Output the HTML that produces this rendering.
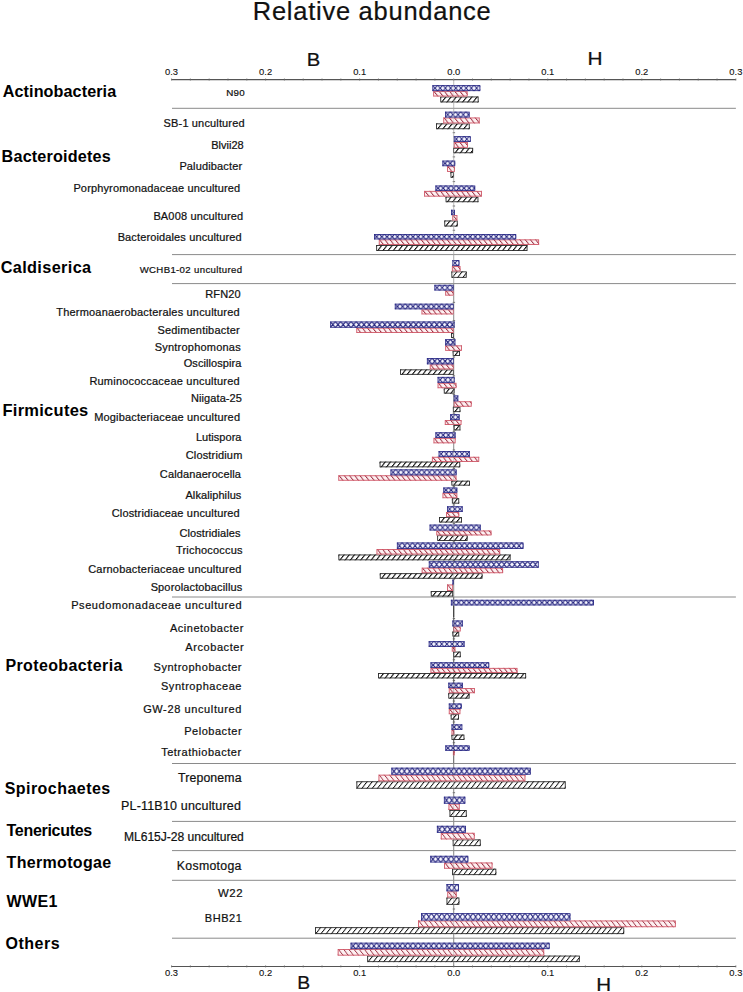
<!DOCTYPE html>
<html><head><meta charset="utf-8"><style>
html,body{margin:0;padding:0;background:#fff;}
svg{display:block;}
text{font-family:"Liberation Sans",sans-serif;}
</style></head><body>
<svg width="743" height="992" viewBox="0 0 743 992">
<defs>
<pattern id="k0" patternUnits="userSpaceOnUse" width="5.2" height="5.90" patternTransform="skewX(-38)"><rect width="5.2" height="5.90" fill="#fff"/><rect x="0" width="1.35" height="5.90" fill="#0a0a0a"/></pattern>
<pattern id="r1" patternUnits="userSpaceOnUse" width="5.2" height="5.40" patternTransform="skewX(38)"><rect width="5.2" height="5.40" fill="#fdf0f1"/><rect x="0" width="1.15" height="5.40" fill="#9c3044"/></pattern>
<pattern id="b2" patternUnits="userSpaceOnUse" width="5.2" height="5.90"><rect width="5.2" height="5.90" fill="#f6f6ff"/><path d="M0,0 L2.6,2.95 L0,5.90 M5.2,0 L2.6,2.95 L5.2,5.90 M-2.6,-2.95 L0,0 M7.800000000000001,-2.95 L5.2,0 M-2.6,8.85 L0,5.90 M7.800000000000001,8.85 L5.2,5.90" stroke="#25257e" stroke-width="1.05" fill="none"/></pattern>
<pattern id="k3" patternUnits="userSpaceOnUse" width="5.2" height="5.80" patternTransform="skewX(-38)"><rect width="5.2" height="5.80" fill="#fff"/><rect x="0" width="1.35" height="5.80" fill="#0a0a0a"/></pattern>
<pattern id="r4" patternUnits="userSpaceOnUse" width="5.2" height="5.90" patternTransform="skewX(38)"><rect width="5.2" height="5.90" fill="#fdf0f1"/><rect x="0" width="1.15" height="5.90" fill="#9c3044"/></pattern>
<pattern id="b5" patternUnits="userSpaceOnUse" width="5.2" height="5.80"><rect width="5.2" height="5.80" fill="#f6f6ff"/><path d="M0,0 L2.6,2.90 L0,5.80 M5.2,0 L2.6,2.90 L5.2,5.80 M-2.6,-2.90 L0,0 M7.800000000000001,-2.90 L5.2,0 M-2.6,8.70 L0,5.80 M7.800000000000001,8.70 L5.2,5.80" stroke="#25257e" stroke-width="1.05" fill="none"/></pattern>
<pattern id="k6" patternUnits="userSpaceOnUse" width="5.2" height="5.40" patternTransform="skewX(-38)"><rect width="5.2" height="5.40" fill="#fff"/><rect x="0" width="1.35" height="5.40" fill="#0a0a0a"/></pattern>
<pattern id="r7" patternUnits="userSpaceOnUse" width="5.2" height="5.80" patternTransform="skewX(38)"><rect width="5.2" height="5.80" fill="#fdf0f1"/><rect x="0" width="1.15" height="5.80" fill="#9c3044"/></pattern>
<pattern id="r8" patternUnits="userSpaceOnUse" width="5.2" height="5.70" patternTransform="skewX(38)"><rect width="5.2" height="5.70" fill="#fdf0f1"/><rect x="0" width="1.15" height="5.70" fill="#9c3044"/></pattern>
<pattern id="b9" patternUnits="userSpaceOnUse" width="5.2" height="5.60"><rect width="5.2" height="5.60" fill="#f6f6ff"/><path d="M0,0 L2.6,2.80 L0,5.60 M5.2,0 L2.6,2.80 L5.2,5.60 M-2.6,-2.80 L0,0 M7.800000000000001,-2.80 L5.2,0 M-2.6,8.40 L0,5.60 M7.800000000000001,8.40 L5.2,5.60" stroke="#25257e" stroke-width="1.05" fill="none"/></pattern>
<pattern id="k10" patternUnits="userSpaceOnUse" width="5.2" height="5.60" patternTransform="skewX(-38)"><rect width="5.2" height="5.60" fill="#fff"/><rect x="0" width="1.35" height="5.60" fill="#0a0a0a"/></pattern>
<pattern id="b11" patternUnits="userSpaceOnUse" width="5.2" height="5.40"><rect width="5.2" height="5.40" fill="#f6f6ff"/><path d="M0,0 L2.6,2.70 L0,5.40 M5.2,0 L2.6,2.70 L5.2,5.40 M-2.6,-2.70 L0,0 M7.800000000000001,-2.70 L5.2,0 M-2.6,8.10 L0,5.40 M7.800000000000001,8.10 L5.2,5.40" stroke="#25257e" stroke-width="1.05" fill="none"/></pattern>
<pattern id="k12" patternUnits="userSpaceOnUse" width="5.2" height="6.00" patternTransform="skewX(-38)"><rect width="5.2" height="6.00" fill="#fff"/><rect x="0" width="1.35" height="6.00" fill="#0a0a0a"/></pattern>
<pattern id="b13" patternUnits="userSpaceOnUse" width="5.2" height="5.30"><rect width="5.2" height="5.30" fill="#f6f6ff"/><path d="M0,0 L2.6,2.65 L0,5.30 M5.2,0 L2.6,2.65 L5.2,5.30 M-2.6,-2.65 L0,0 M7.800000000000001,-2.65 L5.2,0 M-2.6,7.95 L0,5.30 M7.800000000000001,7.95 L5.2,5.30" stroke="#25257e" stroke-width="1.05" fill="none"/></pattern>
<pattern id="r14" patternUnits="userSpaceOnUse" width="5.2" height="5.60" patternTransform="skewX(38)"><rect width="5.2" height="5.60" fill="#fdf0f1"/><rect x="0" width="1.15" height="5.60" fill="#9c3044"/></pattern>
<pattern id="k15" patternUnits="userSpaceOnUse" width="5.2" height="6.40" patternTransform="skewX(-38)"><rect width="5.2" height="6.40" fill="#fff"/><rect x="0" width="1.1" height="6.40" fill="#0a0a0a"/></pattern>
<pattern id="b16" patternUnits="userSpaceOnUse" width="5.2" height="6.00"><rect width="5.2" height="6.00" fill="#f6f6ff"/><path d="M0,0 L2.6,3.00 L0,6.00 M5.2,0 L2.6,3.00 L5.2,6.00 M-2.6,-3.00 L0,0 M7.800000000000001,-3.00 L5.2,0 M-2.6,9.00 L0,6.00 M7.800000000000001,9.00 L5.2,6.00" stroke="#25257e" stroke-width="1.05" fill="none"/></pattern>
<pattern id="r17" patternUnits="userSpaceOnUse" width="5.2" height="5.10" patternTransform="skewX(38)"><rect width="5.2" height="5.10" fill="#fdf0f1"/><rect x="0" width="1.15" height="5.10" fill="#9c3044"/></pattern>
<pattern id="b18" patternUnits="userSpaceOnUse" width="5.2" height="5.70"><rect width="5.2" height="5.70" fill="#f6f6ff"/><path d="M0,0 L2.6,2.85 L0,5.70 M5.2,0 L2.6,2.85 L5.2,5.70 M-2.6,-2.85 L0,0 M7.800000000000001,-2.85 L5.2,0 M-2.6,8.55 L0,5.70 M7.800000000000001,8.55 L5.2,5.70" stroke="#25257e" stroke-width="1.05" fill="none"/></pattern>
<pattern id="k19" patternUnits="userSpaceOnUse" width="5.2" height="4.90" patternTransform="skewX(-38)"><rect width="5.2" height="4.90" fill="#fff"/><rect x="0" width="1.35" height="4.90" fill="#0a0a0a"/></pattern>
<pattern id="r20" patternUnits="userSpaceOnUse" width="5.2" height="5.30" patternTransform="skewX(38)"><rect width="5.2" height="5.30" fill="#fdf0f1"/><rect x="0" width="1.15" height="5.30" fill="#9c3044"/></pattern>
<pattern id="b21" patternUnits="userSpaceOnUse" width="5.2" height="6.20"><rect width="5.2" height="6.20" fill="#f6f6ff"/><path d="M0,0 L2.6,3.10 L0,6.20 M5.2,0 L2.6,3.10 L5.2,6.20 M-2.6,-3.10 L0,0 M7.800000000000001,-3.10 L5.2,0 M-2.6,9.30 L0,6.20 M7.800000000000001,9.30 L5.2,6.20" stroke="#25257e" stroke-width="1.05" fill="none"/></pattern>
<pattern id="k22" patternUnits="userSpaceOnUse" width="5.2" height="5.10" patternTransform="skewX(-38)"><rect width="5.2" height="5.10" fill="#fff"/><rect x="0" width="1.35" height="5.10" fill="#0a0a0a"/></pattern>
<pattern id="r23" patternUnits="userSpaceOnUse" width="5.2" height="4.90" patternTransform="skewX(38)"><rect width="5.2" height="4.90" fill="#fdf0f1"/><rect x="0" width="1.15" height="4.90" fill="#9c3044"/></pattern>
<pattern id="k24" patternUnits="userSpaceOnUse" width="5.2" height="5.70" patternTransform="skewX(-38)"><rect width="5.2" height="5.70" fill="#fff"/><rect x="0" width="1.35" height="5.70" fill="#0a0a0a"/></pattern>
<pattern id="r25" patternUnits="userSpaceOnUse" width="5.2" height="5.50" patternTransform="skewX(38)"><rect width="5.2" height="5.50" fill="#fdf0f1"/><rect x="0" width="1.15" height="5.50" fill="#9c3044"/></pattern>
<pattern id="b26" patternUnits="userSpaceOnUse" width="5.2" height="6.50"><rect width="5.2" height="6.50" fill="#f6f6ff"/><path d="M0,0 L2.6,3.25 L0,6.50 M5.2,0 L2.6,3.25 L5.2,6.50 M-2.6,-3.25 L0,0 M7.800000000000001,-3.25 L5.2,0 M-2.6,9.75 L0,6.50 M7.800000000000001,9.75 L5.2,6.50" stroke="#25257e" stroke-width="1.05" fill="none"/></pattern>
<pattern id="k27" patternUnits="userSpaceOnUse" width="5.2" height="5.50" patternTransform="skewX(-38)"><rect width="5.2" height="5.50" fill="#fff"/><rect x="0" width="1.35" height="5.50" fill="#0a0a0a"/></pattern>
<pattern id="b28" patternUnits="userSpaceOnUse" width="5.2" height="6.40"><rect width="5.2" height="6.40" fill="#f6f6ff"/><path d="M0,0 L2.6,3.20 L0,6.40 M5.2,0 L2.6,3.20 L5.2,6.40 M-2.6,-3.20 L0,0 M7.800000000000001,-3.20 L5.2,0 M-2.6,9.60 L0,6.40 M7.800000000000001,9.60 L5.2,6.40" stroke="#25257e" stroke-width="1.05" fill="none"/></pattern>
<pattern id="r29" patternUnits="userSpaceOnUse" width="5.2" height="6.50" patternTransform="skewX(38)"><rect width="5.2" height="6.50" fill="#fdf0f1"/><rect x="0" width="1.0" height="6.50" fill="#9c3044"/></pattern>
<pattern id="b30" patternUnits="userSpaceOnUse" width="5.2" height="4.80"><rect width="5.2" height="4.80" fill="#f6f6ff"/><path d="M0,0 L2.6,2.40 L0,4.80 M5.2,0 L2.6,2.40 L5.2,4.80 M-2.6,-2.40 L0,0 M7.800000000000001,-2.40 L5.2,0 M-2.6,7.20 L0,4.80 M7.800000000000001,7.20 L5.2,4.80" stroke="#25257e" stroke-width="1.05" fill="none"/></pattern>
<pattern id="k31" patternUnits="userSpaceOnUse" width="5.2" height="5.00" patternTransform="skewX(-38)"><rect width="5.2" height="5.00" fill="#fff"/><rect x="0" width="1.35" height="5.00" fill="#0a0a0a"/></pattern>
<pattern id="r32" patternUnits="userSpaceOnUse" width="5.2" height="4.70" patternTransform="skewX(38)"><rect width="5.2" height="4.70" fill="#fdf0f1"/><rect x="0" width="1.15" height="4.70" fill="#9c3044"/></pattern>
<pattern id="r33" patternUnits="userSpaceOnUse" width="5.2" height="4.80" patternTransform="skewX(38)"><rect width="5.2" height="4.80" fill="#fdf0f1"/><rect x="0" width="1.15" height="4.80" fill="#9c3044"/></pattern>
<pattern id="r34" patternUnits="userSpaceOnUse" width="5.2" height="4.60" patternTransform="skewX(38)"><rect width="5.2" height="4.60" fill="#fdf0f1"/><rect x="0" width="1.15" height="4.60" fill="#9c3044"/></pattern>
<pattern id="k35" patternUnits="userSpaceOnUse" width="5.2" height="7.40" patternTransform="skewX(-38)"><rect width="5.2" height="7.40" fill="#fff"/><rect x="0" width="1.1" height="7.40" fill="#0a0a0a"/></pattern>
<pattern id="r36" patternUnits="userSpaceOnUse" width="5.2" height="6.60" patternTransform="skewX(38)"><rect width="5.2" height="6.60" fill="#fdf0f1"/><rect x="0" width="1.0" height="6.60" fill="#9c3044"/></pattern>
<pattern id="b37" patternUnits="userSpaceOnUse" width="5.2" height="7.00"><rect width="5.2" height="7.00" fill="#f6f6ff"/><path d="M0,0 L2.6,3.50 L0,7.00 M5.2,0 L2.6,3.50 L5.2,7.00 M-2.6,-3.50 L0,0 M7.800000000000001,-3.50 L5.2,0 M-2.6,10.50 L0,7.00 M7.800000000000001,10.50 L5.2,7.00" stroke="#25257e" stroke-width="1.05" fill="none"/></pattern>
<pattern id="k38" patternUnits="userSpaceOnUse" width="5.2" height="7.00" patternTransform="skewX(-38)"><rect width="5.2" height="7.00" fill="#fff"/><rect x="0" width="1.1" height="7.00" fill="#0a0a0a"/></pattern>
<pattern id="r39" patternUnits="userSpaceOnUse" width="5.2" height="6.30" patternTransform="skewX(38)"><rect width="5.2" height="6.30" fill="#fdf0f1"/><rect x="0" width="1.15" height="6.30" fill="#9c3044"/></pattern>
<pattern id="k40" patternUnits="userSpaceOnUse" width="5.2" height="6.70" patternTransform="skewX(-38)"><rect width="5.2" height="6.70" fill="#fff"/><rect x="0" width="1.1" height="6.70" fill="#0a0a0a"/></pattern>
<pattern id="r41" patternUnits="userSpaceOnUse" width="5.2" height="6.20" patternTransform="skewX(38)"><rect width="5.2" height="6.20" fill="#fdf0f1"/><rect x="0" width="1.15" height="6.20" fill="#9c3044"/></pattern>
<pattern id="b42" patternUnits="userSpaceOnUse" width="5.2" height="6.70"><rect width="5.2" height="6.70" fill="#f6f6ff"/><path d="M0,0 L2.6,3.35 L0,6.70 M5.2,0 L2.6,3.35 L5.2,6.70 M-2.6,-3.35 L0,0 M7.800000000000001,-3.35 L5.2,0 M-2.6,10.05 L0,6.70 M7.800000000000001,10.05 L5.2,6.70" stroke="#25257e" stroke-width="1.05" fill="none"/></pattern>
<pattern id="k43" patternUnits="userSpaceOnUse" width="5.2" height="7.30" patternTransform="skewX(-38)"><rect width="5.2" height="7.30" fill="#fff"/><rect x="0" width="1.1" height="7.30" fill="#0a0a0a"/></pattern>
<pattern id="b44" patternUnits="userSpaceOnUse" width="5.2" height="7.30"><rect width="5.2" height="7.30" fill="#f6f6ff"/><path d="M0,0 L2.6,3.65 L0,7.30 M5.2,0 L2.6,3.65 L5.2,7.30 M-2.6,-3.65 L0,0 M7.800000000000001,-3.65 L5.2,0 M-2.6,10.95 L0,7.30 M7.800000000000001,10.95 L5.2,7.30" stroke="#25257e" stroke-width="1.05" fill="none"/></pattern>
<pattern id="k45" patternUnits="userSpaceOnUse" width="5.2" height="6.90" patternTransform="skewX(-38)"><rect width="5.2" height="6.90" fill="#fff"/><rect x="0" width="1.1" height="6.90" fill="#0a0a0a"/></pattern>
<pattern id="r46" patternUnits="userSpaceOnUse" width="5.2" height="6.70" patternTransform="skewX(38)"><rect width="5.2" height="6.70" fill="#fdf0f1"/><rect x="0" width="1.0" height="6.70" fill="#9c3044"/></pattern>
<pattern id="k47" patternUnits="userSpaceOnUse" width="5.2" height="6.50" patternTransform="skewX(-38)"><rect width="5.2" height="6.50" fill="#fff"/><rect x="0" width="1.1" height="6.50" fill="#0a0a0a"/></pattern>
</defs>

<line x1="453.7" y1="79" x2="453.7" y2="254.6" stroke="#bdbdbd" stroke-width="0.9"/>
<line x1="453.7" y1="254.6" x2="453.7" y2="283.6" stroke="#b0b0b0" stroke-width="0.9"/>
<line x1="453.7" y1="283.6" x2="453.7" y2="597" stroke="#8c8c8c" stroke-width="0.9"/>
<line x1="453.7" y1="597" x2="453.7" y2="763.5" stroke="#5a5a5a" stroke-width="0.9"/>
<line x1="453.7" y1="763.5" x2="453.7" y2="966.5" stroke="#8a8a8a" stroke-width="0.9"/>
<line x1="452.70" y1="132.70" x2="455.10" y2="132.70" stroke="#666" stroke-width="0.9"/>
<line x1="452.70" y1="156.90" x2="455.10" y2="156.90" stroke="#666" stroke-width="0.9"/>
<line x1="452.70" y1="181.60" x2="455.10" y2="181.60" stroke="#666" stroke-width="0.9"/>
<line x1="452.70" y1="206.00" x2="455.10" y2="206.00" stroke="#666" stroke-width="0.9"/>
<line x1="452.70" y1="230.25" x2="455.10" y2="230.25" stroke="#666" stroke-width="0.9"/>
<line x1="452.70" y1="302.35" x2="455.10" y2="302.35" stroke="#666" stroke-width="0.9"/>
<line x1="452.70" y1="320.62" x2="455.10" y2="320.62" stroke="#666" stroke-width="0.9"/>
<line x1="452.70" y1="338.55" x2="455.10" y2="338.55" stroke="#666" stroke-width="0.9"/>
<line x1="452.70" y1="357.00" x2="455.10" y2="357.00" stroke="#666" stroke-width="0.9"/>
<line x1="452.70" y1="375.85" x2="455.10" y2="375.85" stroke="#666" stroke-width="0.9"/>
<line x1="452.70" y1="394.50" x2="455.10" y2="394.50" stroke="#666" stroke-width="0.9"/>
<line x1="452.70" y1="413.15" x2="455.10" y2="413.15" stroke="#666" stroke-width="0.9"/>
<line x1="452.70" y1="431.35" x2="455.10" y2="431.35" stroke="#666" stroke-width="0.9"/>
<line x1="452.70" y1="449.95" x2="455.10" y2="449.95" stroke="#666" stroke-width="0.9"/>
<line x1="452.70" y1="468.50" x2="455.10" y2="468.50" stroke="#666" stroke-width="0.9"/>
<line x1="452.70" y1="486.55" x2="455.10" y2="486.55" stroke="#666" stroke-width="0.9"/>
<line x1="452.70" y1="504.95" x2="455.10" y2="504.95" stroke="#666" stroke-width="0.9"/>
<line x1="452.70" y1="523.55" x2="455.10" y2="523.55" stroke="#666" stroke-width="0.9"/>
<line x1="452.70" y1="541.80" x2="455.10" y2="541.80" stroke="#666" stroke-width="0.9"/>
<line x1="452.70" y1="560.80" x2="455.10" y2="560.80" stroke="#666" stroke-width="0.9"/>
<line x1="452.70" y1="579.20" x2="455.10" y2="579.20" stroke="#666" stroke-width="0.9"/>
<line x1="452.70" y1="618.55" x2="455.10" y2="618.55" stroke="#666" stroke-width="0.9"/>
<line x1="452.70" y1="638.85" x2="455.10" y2="638.85" stroke="#666" stroke-width="0.9"/>
<line x1="452.70" y1="659.75" x2="455.10" y2="659.75" stroke="#666" stroke-width="0.9"/>
<line x1="452.70" y1="680.55" x2="455.10" y2="680.55" stroke="#666" stroke-width="0.9"/>
<line x1="452.70" y1="701.05" x2="455.10" y2="701.05" stroke="#666" stroke-width="0.9"/>
<line x1="452.70" y1="722.00" x2="455.10" y2="722.00" stroke="#666" stroke-width="0.9"/>
<line x1="452.70" y1="742.70" x2="455.10" y2="742.70" stroke="#666" stroke-width="0.9"/>
<line x1="452.70" y1="792.70" x2="455.10" y2="792.70" stroke="#666" stroke-width="0.9"/>
<line x1="452.70" y1="909.00" x2="455.10" y2="909.00" stroke="#666" stroke-width="0.9"/>
<line x1="453.7" y1="605.4" x2="453.7" y2="617" stroke="#333" stroke-width="1"/>
<line x1="172.0" y1="108.3" x2="735.9" y2="108.3" stroke="#8a8a8a" stroke-width="1.0"/>
<line x1="172.0" y1="254.6" x2="735.9" y2="254.6" stroke="#8a8a8a" stroke-width="1.0"/>
<line x1="172.0" y1="283.6" x2="735.9" y2="283.6" stroke="#8a8a8a" stroke-width="1.0"/>
<line x1="172.0" y1="597.0" x2="735.9" y2="597.0" stroke="#8a8a8a" stroke-width="1.0"/>
<line x1="172.0" y1="763.5" x2="735.9" y2="763.5" stroke="#8a8a8a" stroke-width="1.0"/>
<line x1="172.0" y1="821.4" x2="735.9" y2="821.4" stroke="#8a8a8a" stroke-width="1.0"/>
<line x1="172.0" y1="850.6" x2="735.9" y2="850.6" stroke="#8a8a8a" stroke-width="1.0"/>
<line x1="172.0" y1="880.3" x2="735.9" y2="880.3" stroke="#8a8a8a" stroke-width="1.0"/>
<line x1="172.0" y1="938.2" x2="735.9" y2="938.2" stroke="#8a8a8a" stroke-width="1.0"/>
<line x1="171.5" y1="79.6" x2="735.9" y2="79.6" stroke="#555" stroke-width="1.1"/>
<line x1="171.55" y1="78.5" x2="171.55" y2="80.5" stroke="#666" stroke-width="0.8"/>
<line x1="190.36" y1="78.5" x2="190.36" y2="80.5" stroke="#666" stroke-width="0.8"/>
<line x1="209.17" y1="78.5" x2="209.17" y2="80.5" stroke="#666" stroke-width="0.8"/>
<line x1="227.98" y1="78.5" x2="227.98" y2="80.5" stroke="#666" stroke-width="0.8"/>
<line x1="246.79" y1="78.5" x2="246.79" y2="80.5" stroke="#666" stroke-width="0.8"/>
<line x1="265.60" y1="78.5" x2="265.60" y2="80.5" stroke="#666" stroke-width="0.8"/>
<line x1="284.41" y1="78.5" x2="284.41" y2="80.5" stroke="#666" stroke-width="0.8"/>
<line x1="303.22" y1="78.5" x2="303.22" y2="80.5" stroke="#666" stroke-width="0.8"/>
<line x1="322.03" y1="78.5" x2="322.03" y2="80.5" stroke="#666" stroke-width="0.8"/>
<line x1="340.84" y1="78.5" x2="340.84" y2="80.5" stroke="#666" stroke-width="0.8"/>
<line x1="359.65" y1="78.5" x2="359.65" y2="80.5" stroke="#666" stroke-width="0.8"/>
<line x1="378.46" y1="78.5" x2="378.46" y2="80.5" stroke="#666" stroke-width="0.8"/>
<line x1="397.27" y1="78.5" x2="397.27" y2="80.5" stroke="#666" stroke-width="0.8"/>
<line x1="416.08" y1="78.5" x2="416.08" y2="80.5" stroke="#666" stroke-width="0.8"/>
<line x1="434.89" y1="78.5" x2="434.89" y2="80.5" stroke="#666" stroke-width="0.8"/>
<line x1="453.70" y1="78.5" x2="453.70" y2="80.5" stroke="#666" stroke-width="0.8"/>
<line x1="472.51" y1="78.5" x2="472.51" y2="80.5" stroke="#666" stroke-width="0.8"/>
<line x1="491.32" y1="78.5" x2="491.32" y2="80.5" stroke="#666" stroke-width="0.8"/>
<line x1="510.13" y1="78.5" x2="510.13" y2="80.5" stroke="#666" stroke-width="0.8"/>
<line x1="528.94" y1="78.5" x2="528.94" y2="80.5" stroke="#666" stroke-width="0.8"/>
<line x1="547.75" y1="78.5" x2="547.75" y2="80.5" stroke="#666" stroke-width="0.8"/>
<line x1="566.56" y1="78.5" x2="566.56" y2="80.5" stroke="#666" stroke-width="0.8"/>
<line x1="585.37" y1="78.5" x2="585.37" y2="80.5" stroke="#666" stroke-width="0.8"/>
<line x1="604.18" y1="78.5" x2="604.18" y2="80.5" stroke="#666" stroke-width="0.8"/>
<line x1="622.99" y1="78.5" x2="622.99" y2="80.5" stroke="#666" stroke-width="0.8"/>
<line x1="641.80" y1="78.5" x2="641.80" y2="80.5" stroke="#666" stroke-width="0.8"/>
<line x1="660.61" y1="78.5" x2="660.61" y2="80.5" stroke="#666" stroke-width="0.8"/>
<line x1="679.42" y1="78.5" x2="679.42" y2="80.5" stroke="#666" stroke-width="0.8"/>
<line x1="698.23" y1="78.5" x2="698.23" y2="80.5" stroke="#666" stroke-width="0.8"/>
<line x1="717.04" y1="78.5" x2="717.04" y2="80.5" stroke="#666" stroke-width="0.8"/>
<line x1="735.85" y1="78.5" x2="735.85" y2="80.5" stroke="#666" stroke-width="0.8"/>
<text x="171.55" y="75.0" font-size="9.4" fill="#111" stroke="#111" stroke-width="0.12" text-anchor="middle">0.3</text>
<text x="265.60" y="75.0" font-size="9.4" fill="#111" stroke="#111" stroke-width="0.12" text-anchor="middle">0.2</text>
<text x="359.65" y="75.0" font-size="9.4" fill="#111" stroke="#111" stroke-width="0.12" text-anchor="middle">0.1</text>
<text x="453.70" y="75.0" font-size="9.4" fill="#111" stroke="#111" stroke-width="0.12" text-anchor="middle">0.0</text>
<text x="547.75" y="75.0" font-size="9.4" fill="#111" stroke="#111" stroke-width="0.12" text-anchor="middle">0.1</text>
<text x="641.80" y="75.0" font-size="9.4" fill="#111" stroke="#111" stroke-width="0.12" text-anchor="middle">0.2</text>
<text x="735.85" y="75.0" font-size="9.4" fill="#111" stroke="#111" stroke-width="0.12" text-anchor="middle">0.3</text>
<line x1="171.5" y1="966.5" x2="735.9" y2="966.5" stroke="#555" stroke-width="1.1"/>
<line x1="171.55" y1="965.4" x2="171.55" y2="967.4" stroke="#666" stroke-width="0.8"/>
<line x1="190.36" y1="965.4" x2="190.36" y2="967.4" stroke="#666" stroke-width="0.8"/>
<line x1="209.17" y1="965.4" x2="209.17" y2="967.4" stroke="#666" stroke-width="0.8"/>
<line x1="227.98" y1="965.4" x2="227.98" y2="967.4" stroke="#666" stroke-width="0.8"/>
<line x1="246.79" y1="965.4" x2="246.79" y2="967.4" stroke="#666" stroke-width="0.8"/>
<line x1="265.60" y1="965.4" x2="265.60" y2="967.4" stroke="#666" stroke-width="0.8"/>
<line x1="284.41" y1="965.4" x2="284.41" y2="967.4" stroke="#666" stroke-width="0.8"/>
<line x1="303.22" y1="965.4" x2="303.22" y2="967.4" stroke="#666" stroke-width="0.8"/>
<line x1="322.03" y1="965.4" x2="322.03" y2="967.4" stroke="#666" stroke-width="0.8"/>
<line x1="340.84" y1="965.4" x2="340.84" y2="967.4" stroke="#666" stroke-width="0.8"/>
<line x1="359.65" y1="965.4" x2="359.65" y2="967.4" stroke="#666" stroke-width="0.8"/>
<line x1="378.46" y1="965.4" x2="378.46" y2="967.4" stroke="#666" stroke-width="0.8"/>
<line x1="397.27" y1="965.4" x2="397.27" y2="967.4" stroke="#666" stroke-width="0.8"/>
<line x1="416.08" y1="965.4" x2="416.08" y2="967.4" stroke="#666" stroke-width="0.8"/>
<line x1="434.89" y1="965.4" x2="434.89" y2="967.4" stroke="#666" stroke-width="0.8"/>
<line x1="453.70" y1="965.4" x2="453.70" y2="967.4" stroke="#666" stroke-width="0.8"/>
<line x1="472.51" y1="965.4" x2="472.51" y2="967.4" stroke="#666" stroke-width="0.8"/>
<line x1="491.32" y1="965.4" x2="491.32" y2="967.4" stroke="#666" stroke-width="0.8"/>
<line x1="510.13" y1="965.4" x2="510.13" y2="967.4" stroke="#666" stroke-width="0.8"/>
<line x1="528.94" y1="965.4" x2="528.94" y2="967.4" stroke="#666" stroke-width="0.8"/>
<line x1="547.75" y1="965.4" x2="547.75" y2="967.4" stroke="#666" stroke-width="0.8"/>
<line x1="566.56" y1="965.4" x2="566.56" y2="967.4" stroke="#666" stroke-width="0.8"/>
<line x1="585.37" y1="965.4" x2="585.37" y2="967.4" stroke="#666" stroke-width="0.8"/>
<line x1="604.18" y1="965.4" x2="604.18" y2="967.4" stroke="#666" stroke-width="0.8"/>
<line x1="622.99" y1="965.4" x2="622.99" y2="967.4" stroke="#666" stroke-width="0.8"/>
<line x1="641.80" y1="965.4" x2="641.80" y2="967.4" stroke="#666" stroke-width="0.8"/>
<line x1="660.61" y1="965.4" x2="660.61" y2="967.4" stroke="#666" stroke-width="0.8"/>
<line x1="679.42" y1="965.4" x2="679.42" y2="967.4" stroke="#666" stroke-width="0.8"/>
<line x1="698.23" y1="965.4" x2="698.23" y2="967.4" stroke="#666" stroke-width="0.8"/>
<line x1="717.04" y1="965.4" x2="717.04" y2="967.4" stroke="#666" stroke-width="0.8"/>
<line x1="735.85" y1="965.4" x2="735.85" y2="967.4" stroke="#666" stroke-width="0.8"/>
<text x="171.55" y="976.3" font-size="9.4" fill="#111" stroke="#111" stroke-width="0.12" text-anchor="middle">0.3</text>
<text x="265.60" y="976.3" font-size="9.4" fill="#111" stroke="#111" stroke-width="0.12" text-anchor="middle">0.2</text>
<text x="359.65" y="976.3" font-size="9.4" fill="#111" stroke="#111" stroke-width="0.12" text-anchor="middle">0.1</text>
<text x="453.70" y="976.3" font-size="9.4" fill="#111" stroke="#111" stroke-width="0.12" text-anchor="middle">0.0</text>
<text x="547.75" y="976.3" font-size="9.4" fill="#111" stroke="#111" stroke-width="0.12" text-anchor="middle">0.1</text>
<text x="641.80" y="976.3" font-size="9.4" fill="#111" stroke="#111" stroke-width="0.12" text-anchor="middle">0.2</text>
<text x="735.85" y="976.3" font-size="9.4" fill="#111" stroke="#111" stroke-width="0.12" text-anchor="middle">0.3</text>
<g transform="translate(440.30,96.50)"><rect width="38.30" height="5.90" fill="url(#k0)"/><rect x="0.45" y="0.45" width="37.40" height="5.00" fill="none" stroke="#2a2a2a" stroke-width="0.9"/></g>
<g transform="translate(433.20,91.10)"><rect width="34.40" height="5.40" fill="url(#r1)"/><rect x="0.45" y="0.45" width="33.50" height="4.50" fill="none" stroke="#d05868" stroke-width="0.9"/></g>
<g transform="translate(432.40,85.20)"><rect width="47.90" height="5.90" fill="url(#b2)"/><rect x="0.425" y="0.425" width="47.05" height="5.05" fill="none" stroke="#2a2a86" stroke-width="0.85"/></g>
<g transform="translate(436.10,123.40)"><rect width="33.60" height="5.80" fill="url(#k3)"/><rect x="0.45" y="0.45" width="32.70" height="4.90" fill="none" stroke="#2a2a2a" stroke-width="0.9"/></g>
<g transform="translate(443.30,117.50)"><rect width="36.40" height="5.90" fill="url(#r4)"/><rect x="0.45" y="0.45" width="35.50" height="5.00" fill="none" stroke="#d05868" stroke-width="0.9"/></g>
<g transform="translate(445.10,111.70)"><rect width="24.50" height="5.80" fill="url(#b5)"/><rect x="0.425" y="0.425" width="23.65" height="4.95" fill="none" stroke="#2a2a86" stroke-width="0.85"/></g>
<g transform="translate(453.20,147.80)"><rect width="19.90" height="5.40" fill="url(#k6)"/><rect x="0.45" y="0.45" width="19.00" height="4.50" fill="none" stroke="#2a2a2a" stroke-width="0.9"/></g>
<g transform="translate(453.80,142.00)"><rect width="14.20" height="5.80" fill="url(#r7)"/><rect x="0.45" y="0.45" width="13.30" height="4.90" fill="none" stroke="#d05868" stroke-width="0.9"/></g>
<g transform="translate(453.80,136.20)"><rect width="16.90" height="5.80" fill="url(#b5)"/><rect x="0.425" y="0.425" width="16.05" height="4.95" fill="none" stroke="#2a2a86" stroke-width="0.85"/></g>
<g transform="translate(450.50,171.90)"><rect width="3.30" height="5.80" fill="url(#k3)"/><rect x="0.45" y="0.45" width="2.40" height="4.90" fill="none" stroke="#2a2a2a" stroke-width="0.9"/></g>
<g transform="translate(447.10,166.20)"><rect width="7.80" height="5.70" fill="url(#r8)"/><rect x="0.45" y="0.45" width="6.90" height="4.80" fill="none" stroke="#d05868" stroke-width="0.9"/></g>
<g transform="translate(442.40,160.60)"><rect width="12.80" height="5.60" fill="url(#b9)"/><rect x="0.425" y="0.425" width="11.95" height="4.75" fill="none" stroke="#2a2a86" stroke-width="0.85"/></g>
<g transform="translate(445.60,196.60)"><rect width="32.80" height="5.60" fill="url(#k10)"/><rect x="0.45" y="0.45" width="31.90" height="4.70" fill="none" stroke="#2a2a2a" stroke-width="0.9"/></g>
<g transform="translate(424.10,190.90)"><rect width="57.80" height="5.70" fill="url(#r8)"/><rect x="0.45" y="0.45" width="56.90" height="4.80" fill="none" stroke="#d05868" stroke-width="0.9"/></g>
<g transform="translate(435.40,185.50)"><rect width="39.80" height="5.40" fill="url(#b11)"/><rect x="0.425" y="0.425" width="38.95" height="4.55" fill="none" stroke="#2a2a86" stroke-width="0.85"/></g>
<g transform="translate(444.30,220.50)"><rect width="13.40" height="6.00" fill="url(#k12)"/><rect x="0.45" y="0.45" width="12.50" height="5.10" fill="none" stroke="#2a2a2a" stroke-width="0.9"/></g>
<g transform="translate(452.30,215.10)"><rect width="5.10" height="5.40" fill="url(#r1)"/><rect x="0.45" y="0.45" width="4.20" height="4.50" fill="none" stroke="#d05868" stroke-width="0.9"/></g>
<g transform="translate(451.00,209.80)"><rect width="4.00" height="5.30" fill="url(#b13)"/><rect x="0.425" y="0.425" width="3.15" height="4.45" fill="none" stroke="#2a2a86" stroke-width="0.85"/></g>
<g transform="translate(376.20,245.00)"><rect width="151.30" height="6.00" fill="url(#k12)"/><rect x="0.45" y="0.45" width="150.40" height="5.10" fill="none" stroke="#2a2a2a" stroke-width="0.9"/></g>
<g transform="translate(378.80,239.40)"><rect width="160.30" height="5.60" fill="url(#r14)"/><rect x="0.45" y="0.45" width="159.40" height="4.70" fill="none" stroke="#d05868" stroke-width="0.9"/></g>
<g transform="translate(374.00,234.00)"><rect width="142.20" height="5.40" fill="url(#b11)"/><rect x="0.425" y="0.425" width="141.35" height="4.55" fill="none" stroke="#2a2a86" stroke-width="0.85"/></g>
<g transform="translate(451.40,271.40)"><rect width="15.30" height="6.40" fill="url(#k15)"/><rect x="0.45" y="0.45" width="14.40" height="5.50" fill="none" stroke="#2a2a2a" stroke-width="0.9"/></g>
<g transform="translate(451.90,266.00)"><rect width="8.60" height="5.40" fill="url(#r1)"/><rect x="0.45" y="0.45" width="7.70" height="4.50" fill="none" stroke="#d05868" stroke-width="0.9"/></g>
<g transform="translate(452.40,260.00)"><rect width="7.00" height="6.00" fill="url(#b16)"/><rect x="0.425" y="0.425" width="6.15" height="5.15" fill="none" stroke="#2a2a86" stroke-width="0.85"/></g>
<g transform="translate(445.20,290.50)"><rect width="8.60" height="5.10" fill="url(#r17)"/><rect x="0.45" y="0.45" width="7.70" height="4.20" fill="none" stroke="#d05868" stroke-width="0.9"/></g>
<g transform="translate(434.40,284.80)"><rect width="19.40" height="5.70" fill="url(#b18)"/><rect x="0.425" y="0.425" width="18.55" height="4.85" fill="none" stroke="#2a2a86" stroke-width="0.85"/></g>
<g transform="translate(421.50,309.30)"><rect width="32.30" height="5.10" fill="url(#r17)"/><rect x="0.45" y="0.45" width="31.40" height="4.20" fill="none" stroke="#d05868" stroke-width="0.9"/></g>
<g transform="translate(394.80,303.70)"><rect width="59.00" height="5.60" fill="url(#b9)"/><rect x="0.425" y="0.425" width="58.15" height="4.75" fill="none" stroke="#2a2a86" stroke-width="0.85"/></g>
<g transform="translate(451.00,333.00)"><rect width="2.80" height="4.90" fill="url(#k19)"/><rect x="0.45" y="0.45" width="1.90" height="4.00" fill="none" stroke="#2a2a2a" stroke-width="0.9"/></g>
<g transform="translate(356.30,327.70)"><rect width="97.50" height="5.30" fill="url(#r20)"/><rect x="0.45" y="0.45" width="96.60" height="4.40" fill="none" stroke="#d05868" stroke-width="0.9"/></g>
<g transform="translate(330.20,321.50)"><rect width="124.40" height="6.20" fill="url(#b21)"/><rect x="0.425" y="0.425" width="123.55" height="5.35" fill="none" stroke="#2a2a86" stroke-width="0.85"/></g>
<g transform="translate(452.70,350.80)"><rect width="7.30" height="5.10" fill="url(#k22)"/><rect x="0.45" y="0.45" width="6.40" height="4.20" fill="none" stroke="#2a2a2a" stroke-width="0.9"/></g>
<g transform="translate(445.20,345.40)"><rect width="16.70" height="5.40" fill="url(#r1)"/><rect x="0.45" y="0.45" width="15.80" height="4.50" fill="none" stroke="#d05868" stroke-width="0.9"/></g>
<g transform="translate(445.20,339.20)"><rect width="10.20" height="6.20" fill="url(#b21)"/><rect x="0.425" y="0.425" width="9.35" height="5.35" fill="none" stroke="#2a2a86" stroke-width="0.85"/></g>
<g transform="translate(400.00,369.40)"><rect width="53.80" height="5.40" fill="url(#k6)"/><rect x="0.45" y="0.45" width="52.90" height="4.50" fill="none" stroke="#2a2a2a" stroke-width="0.9"/></g>
<g transform="translate(429.80,364.30)"><rect width="24.00" height="5.10" fill="url(#r17)"/><rect x="0.45" y="0.45" width="23.10" height="4.20" fill="none" stroke="#d05868" stroke-width="0.9"/></g>
<g transform="translate(426.90,358.10)"><rect width="26.90" height="6.20" fill="url(#b21)"/><rect x="0.425" y="0.425" width="26.05" height="5.35" fill="none" stroke="#2a2a86" stroke-width="0.85"/></g>
<g transform="translate(443.80,388.20)"><rect width="10.80" height="5.40" fill="url(#k6)"/><rect x="0.45" y="0.45" width="9.90" height="4.50" fill="none" stroke="#2a2a2a" stroke-width="0.9"/></g>
<g transform="translate(437.60,382.80)"><rect width="18.90" height="5.40" fill="url(#r1)"/><rect x="0.45" y="0.45" width="18.00" height="4.50" fill="none" stroke="#d05868" stroke-width="0.9"/></g>
<g transform="translate(437.60,376.90)"><rect width="17.00" height="5.90" fill="url(#b2)"/><rect x="0.425" y="0.425" width="16.15" height="5.05" fill="none" stroke="#2a2a86" stroke-width="0.85"/></g>
<g transform="translate(452.90,406.70)"><rect width="7.50" height="5.40" fill="url(#k6)"/><rect x="0.45" y="0.45" width="6.60" height="4.50" fill="none" stroke="#2a2a2a" stroke-width="0.9"/></g>
<g transform="translate(453.70,401.30)"><rect width="18.00" height="5.40" fill="url(#r1)"/><rect x="0.45" y="0.45" width="17.10" height="4.50" fill="none" stroke="#d05868" stroke-width="0.9"/></g>
<g transform="translate(453.70,395.40)"><rect width="4.60" height="5.90" fill="url(#b2)"/><rect x="0.425" y="0.425" width="3.75" height="5.05" fill="none" stroke="#2a2a86" stroke-width="0.85"/></g>
<g transform="translate(453.70,425.00)"><rect width="6.70" height="5.40" fill="url(#k6)"/><rect x="0.45" y="0.45" width="5.80" height="4.50" fill="none" stroke="#2a2a2a" stroke-width="0.9"/></g>
<g transform="translate(444.80,420.10)"><rect width="16.70" height="4.90" fill="url(#r23)"/><rect x="0.45" y="0.45" width="15.80" height="4.00" fill="none" stroke="#d05868" stroke-width="0.9"/></g>
<g transform="translate(450.20,414.20)"><rect width="9.40" height="5.90" fill="url(#b2)"/><rect x="0.425" y="0.425" width="8.55" height="5.05" fill="none" stroke="#2a2a86" stroke-width="0.85"/></g>
<g transform="translate(433.50,437.90)"><rect width="22.10" height="5.40" fill="url(#r1)"/><rect x="0.45" y="0.45" width="21.20" height="4.50" fill="none" stroke="#d05868" stroke-width="0.9"/></g>
<g transform="translate(435.40,432.30)"><rect width="20.20" height="5.60" fill="url(#b9)"/><rect x="0.425" y="0.425" width="19.35" height="4.75" fill="none" stroke="#2a2a86" stroke-width="0.85"/></g>
<g transform="translate(379.60,461.60)"><rect width="80.60" height="5.70" fill="url(#k24)"/><rect x="0.45" y="0.45" width="79.70" height="4.80" fill="none" stroke="#2a2a2a" stroke-width="0.9"/></g>
<g transform="translate(431.90,456.80)"><rect width="47.30" height="5.10" fill="url(#r17)"/><rect x="0.45" y="0.45" width="46.40" height="4.20" fill="none" stroke="#d05868" stroke-width="0.9"/></g>
<g transform="translate(438.60,451.10)"><rect width="31.20" height="5.70" fill="url(#b18)"/><rect x="0.425" y="0.425" width="30.35" height="4.85" fill="none" stroke="#2a2a86" stroke-width="0.85"/></g>
<g transform="translate(451.40,480.70)"><rect width="18.50" height="4.90" fill="url(#k19)"/><rect x="0.45" y="0.45" width="17.60" height="4.00" fill="none" stroke="#2a2a2a" stroke-width="0.9"/></g>
<g transform="translate(338.30,475.30)"><rect width="118.20" height="5.40" fill="url(#r1)"/><rect x="0.45" y="0.45" width="117.30" height="4.50" fill="none" stroke="#d05868" stroke-width="0.9"/></g>
<g transform="translate(390.50,469.40)"><rect width="66.10" height="5.90" fill="url(#b2)"/><rect x="0.425" y="0.425" width="65.25" height="5.05" fill="none" stroke="#2a2a86" stroke-width="0.85"/></g>
<g transform="translate(451.90,498.20)"><rect width="7.30" height="5.40" fill="url(#k6)"/><rect x="0.45" y="0.45" width="6.40" height="4.50" fill="none" stroke="#2a2a2a" stroke-width="0.9"/></g>
<g transform="translate(442.50,492.80)"><rect width="14.80" height="5.40" fill="url(#r1)"/><rect x="0.45" y="0.45" width="13.90" height="4.50" fill="none" stroke="#d05868" stroke-width="0.9"/></g>
<g transform="translate(443.30,487.50)"><rect width="14.00" height="5.30" fill="url(#b13)"/><rect x="0.425" y="0.425" width="13.15" height="4.45" fill="none" stroke="#2a2a86" stroke-width="0.85"/></g>
<g transform="translate(439.00,517.10)"><rect width="22.90" height="5.40" fill="url(#k6)"/><rect x="0.45" y="0.45" width="22.00" height="4.50" fill="none" stroke="#2a2a2a" stroke-width="0.9"/></g>
<g transform="translate(446.00,512.00)"><rect width="13.20" height="5.10" fill="url(#r17)"/><rect x="0.45" y="0.45" width="12.30" height="4.20" fill="none" stroke="#d05868" stroke-width="0.9"/></g>
<g transform="translate(447.00,506.30)"><rect width="15.70" height="5.70" fill="url(#b18)"/><rect x="0.425" y="0.425" width="14.85" height="4.85" fill="none" stroke="#2a2a86" stroke-width="0.85"/></g>
<g transform="translate(437.20,535.20)"><rect width="30.40" height="5.70" fill="url(#k24)"/><rect x="0.45" y="0.45" width="29.50" height="4.80" fill="none" stroke="#2a2a2a" stroke-width="0.9"/></g>
<g transform="translate(436.30,530.50)"><rect width="55.20" height="4.90" fill="url(#r23)"/><rect x="0.45" y="0.45" width="54.30" height="4.00" fill="none" stroke="#d05868" stroke-width="0.9"/></g>
<g transform="translate(429.60,524.60)"><rect width="51.10" height="5.90" fill="url(#b2)"/><rect x="0.425" y="0.425" width="50.25" height="5.05" fill="none" stroke="#2a2a86" stroke-width="0.85"/></g>
<g transform="translate(338.40,554.50)"><rect width="172.20" height="5.80" fill="url(#k3)"/><rect x="0.45" y="0.45" width="171.30" height="4.90" fill="none" stroke="#2a2a2a" stroke-width="0.9"/></g>
<g transform="translate(376.50,549.00)"><rect width="123.70" height="5.50" fill="url(#r25)"/><rect x="0.45" y="0.45" width="122.80" height="4.60" fill="none" stroke="#d05868" stroke-width="0.9"/></g>
<g transform="translate(396.90,542.50)"><rect width="126.60" height="6.50" fill="url(#b26)"/><rect x="0.425" y="0.425" width="125.75" height="5.65" fill="none" stroke="#2a2a86" stroke-width="0.85"/></g>
<g transform="translate(379.80,573.20)"><rect width="102.70" height="5.50" fill="url(#k27)"/><rect x="0.45" y="0.45" width="101.80" height="4.60" fill="none" stroke="#2a2a2a" stroke-width="0.9"/></g>
<g transform="translate(421.70,567.70)"><rect width="81.40" height="5.50" fill="url(#r25)"/><rect x="0.45" y="0.45" width="80.50" height="4.60" fill="none" stroke="#d05868" stroke-width="0.9"/></g>
<g transform="translate(428.80,561.30)"><rect width="109.90" height="6.40" fill="url(#b28)"/><rect x="0.425" y="0.425" width="109.05" height="5.55" fill="none" stroke="#2a2a86" stroke-width="0.85"/></g>
<g transform="translate(430.80,591.00)"><rect width="22.30" height="5.50" fill="url(#k27)"/><rect x="0.45" y="0.45" width="21.40" height="4.60" fill="none" stroke="#2a2a2a" stroke-width="0.9"/></g>
<g transform="translate(447.00,584.50)"><rect width="6.10" height="6.50" fill="url(#r29)"/><rect x="0.45" y="0.45" width="5.20" height="5.60" fill="none" stroke="#d05868" stroke-width="0.9"/></g>
<g transform="translate(452.40,579.70)"><rect width="1.60" height="4.80" fill="url(#b30)"/><rect x="0.425" y="0.425" width="0.75" height="3.95" fill="none" stroke="#2a2a86" stroke-width="0.85"/></g>
<g transform="translate(450.90,599.80)"><rect width="143.10" height="5.60" fill="url(#b9)"/><rect x="0.425" y="0.425" width="142.25" height="4.75" fill="none" stroke="#2a2a86" stroke-width="0.85"/></g>
<g transform="translate(452.40,631.50)"><rect width="6.80" height="5.00" fill="url(#k31)"/><rect x="0.45" y="0.45" width="5.90" height="4.10" fill="none" stroke="#2a2a2a" stroke-width="0.9"/></g>
<g transform="translate(453.30,626.40)"><rect width="7.40" height="5.10" fill="url(#r17)"/><rect x="0.45" y="0.45" width="6.50" height="4.20" fill="none" stroke="#d05868" stroke-width="0.9"/></g>
<g transform="translate(452.40,620.50)"><rect width="10.40" height="5.90" fill="url(#b2)"/><rect x="0.425" y="0.425" width="9.55" height="5.05" fill="none" stroke="#2a2a86" stroke-width="0.85"/></g>
<g transform="translate(453.30,651.60)"><rect width="7.40" height="5.60" fill="url(#k10)"/><rect x="0.45" y="0.45" width="6.50" height="4.70" fill="none" stroke="#2a2a2a" stroke-width="0.9"/></g>
<g transform="translate(451.80,646.90)"><rect width="3.60" height="4.70" fill="url(#r32)"/><rect x="0.45" y="0.45" width="2.70" height="3.80" fill="none" stroke="#d05868" stroke-width="0.9"/></g>
<g transform="translate(428.70,641.20)"><rect width="35.90" height="5.70" fill="url(#b18)"/><rect x="0.425" y="0.425" width="35.05" height="4.85" fill="none" stroke="#2a2a86" stroke-width="0.85"/></g>
<g transform="translate(378.00,673.00)"><rect width="148.10" height="5.40" fill="url(#k6)"/><rect x="0.45" y="0.45" width="147.20" height="4.50" fill="none" stroke="#2a2a2a" stroke-width="0.9"/></g>
<g transform="translate(430.50,667.90)"><rect width="87.00" height="5.10" fill="url(#r17)"/><rect x="0.45" y="0.45" width="86.10" height="4.20" fill="none" stroke="#d05868" stroke-width="0.9"/></g>
<g transform="translate(430.50,662.30)"><rect width="58.70" height="5.60" fill="url(#b9)"/><rect x="0.425" y="0.425" width="57.85" height="4.75" fill="none" stroke="#2a2a86" stroke-width="0.85"/></g>
<g transform="translate(448.30,693.20)"><rect width="21.30" height="5.40" fill="url(#k6)"/><rect x="0.45" y="0.45" width="20.40" height="4.50" fill="none" stroke="#2a2a2a" stroke-width="0.9"/></g>
<g transform="translate(448.80,688.10)"><rect width="26.10" height="5.10" fill="url(#r17)"/><rect x="0.45" y="0.45" width="25.20" height="4.20" fill="none" stroke="#d05868" stroke-width="0.9"/></g>
<g transform="translate(448.30,682.70)"><rect width="14.50" height="5.40" fill="url(#b11)"/><rect x="0.425" y="0.425" width="13.65" height="4.55" fill="none" stroke="#2a2a86" stroke-width="0.85"/></g>
<g transform="translate(450.70,714.20)"><rect width="8.30" height="5.40" fill="url(#k6)"/><rect x="0.45" y="0.45" width="7.40" height="4.50" fill="none" stroke="#2a2a2a" stroke-width="0.9"/></g>
<g transform="translate(448.80,708.80)"><rect width="11.60" height="5.40" fill="url(#r1)"/><rect x="0.45" y="0.45" width="10.70" height="4.50" fill="none" stroke="#d05868" stroke-width="0.9"/></g>
<g transform="translate(448.80,703.50)"><rect width="12.90" height="5.30" fill="url(#b13)"/><rect x="0.425" y="0.425" width="12.05" height="4.45" fill="none" stroke="#2a2a86" stroke-width="0.85"/></g>
<g transform="translate(451.50,734.60)"><rect width="12.90" height="5.40" fill="url(#k6)"/><rect x="0.45" y="0.45" width="12.00" height="4.50" fill="none" stroke="#2a2a2a" stroke-width="0.9"/></g>
<g transform="translate(451.50,729.80)"><rect width="2.70" height="4.80" fill="url(#r33)"/><rect x="0.45" y="0.45" width="1.80" height="3.90" fill="none" stroke="#d05868" stroke-width="0.9"/></g>
<g transform="translate(451.50,724.40)"><rect width="10.80" height="5.40" fill="url(#b11)"/><rect x="0.425" y="0.425" width="9.95" height="4.55" fill="none" stroke="#2a2a86" stroke-width="0.85"/></g>
<g transform="translate(452.90,750.80)"><rect width="1.80" height="4.60" fill="url(#r34)"/><rect x="0.45" y="0.45" width="0.90" height="3.70" fill="none" stroke="#d05868" stroke-width="0.9"/></g>
<g transform="translate(445.30,745.40)"><rect width="24.30" height="5.40" fill="url(#b11)"/><rect x="0.425" y="0.425" width="23.45" height="4.55" fill="none" stroke="#2a2a86" stroke-width="0.85"/></g>
<g transform="translate(356.40,781.30)"><rect width="209.30" height="7.40" fill="url(#k35)"/><rect x="0.45" y="0.45" width="208.40" height="6.50" fill="none" stroke="#2a2a2a" stroke-width="0.9"/></g>
<g transform="translate(378.50,774.70)"><rect width="146.90" height="6.60" fill="url(#r36)"/><rect x="0.45" y="0.45" width="146.00" height="5.70" fill="none" stroke="#d05868" stroke-width="0.9"/></g>
<g transform="translate(391.40,767.70)"><rect width="139.30" height="7.00" fill="url(#b37)"/><rect x="0.425" y="0.425" width="138.45" height="6.15" fill="none" stroke="#2a2a86" stroke-width="0.85"/></g>
<g transform="translate(449.50,810.00)"><rect width="17.20" height="7.00" fill="url(#k38)"/><rect x="0.45" y="0.45" width="16.30" height="6.10" fill="none" stroke="#2a2a2a" stroke-width="0.9"/></g>
<g transform="translate(448.50,803.70)"><rect width="11.20" height="6.30" fill="url(#r39)"/><rect x="0.45" y="0.45" width="10.30" height="5.40" fill="none" stroke="#d05868" stroke-width="0.9"/></g>
<g transform="translate(443.90,796.70)"><rect width="21.40" height="7.00" fill="url(#b37)"/><rect x="0.425" y="0.425" width="20.55" height="6.15" fill="none" stroke="#2a2a86" stroke-width="0.85"/></g>
<g transform="translate(452.70,839.40)"><rect width="28.00" height="6.70" fill="url(#k40)"/><rect x="0.45" y="0.45" width="27.10" height="5.80" fill="none" stroke="#2a2a2a" stroke-width="0.9"/></g>
<g transform="translate(440.80,832.80)"><rect width="33.90" height="6.60" fill="url(#r36)"/><rect x="0.45" y="0.45" width="33.00" height="5.70" fill="none" stroke="#d05868" stroke-width="0.9"/></g>
<g transform="translate(436.90,825.80)"><rect width="29.10" height="7.00" fill="url(#b37)"/><rect x="0.425" y="0.425" width="28.25" height="6.15" fill="none" stroke="#2a2a86" stroke-width="0.85"/></g>
<g transform="translate(452.10,868.70)"><rect width="44.20" height="6.40" fill="url(#k15)"/><rect x="0.45" y="0.45" width="43.30" height="5.50" fill="none" stroke="#2a2a2a" stroke-width="0.9"/></g>
<g transform="translate(444.10,862.50)"><rect width="48.40" height="6.20" fill="url(#r41)"/><rect x="0.45" y="0.45" width="47.50" height="5.30" fill="none" stroke="#d05868" stroke-width="0.9"/></g>
<g transform="translate(430.30,855.80)"><rect width="38.00" height="6.70" fill="url(#b42)"/><rect x="0.425" y="0.425" width="37.15" height="5.85" fill="none" stroke="#2a2a86" stroke-width="0.85"/></g>
<g transform="translate(446.50,897.50)"><rect width="12.90" height="7.30" fill="url(#k43)"/><rect x="0.45" y="0.45" width="12.00" height="6.40" fill="none" stroke="#2a2a2a" stroke-width="0.9"/></g>
<g transform="translate(447.30,891.30)"><rect width="9.40" height="6.20" fill="url(#r41)"/><rect x="0.45" y="0.45" width="8.50" height="5.30" fill="none" stroke="#d05868" stroke-width="0.9"/></g>
<g transform="translate(446.50,884.00)"><rect width="12.40" height="7.30" fill="url(#b44)"/><rect x="0.425" y="0.425" width="11.55" height="6.45" fill="none" stroke="#2a2a86" stroke-width="0.85"/></g>
<g transform="translate(315.10,927.20)"><rect width="309.10" height="6.90" fill="url(#k45)"/><rect x="0.45" y="0.45" width="308.20" height="6.00" fill="none" stroke="#2a2a2a" stroke-width="0.9"/></g>
<g transform="translate(418.00,920.50)"><rect width="257.80" height="6.70" fill="url(#r46)"/><rect x="0.45" y="0.45" width="256.90" height="5.80" fill="none" stroke="#d05868" stroke-width="0.9"/></g>
<g transform="translate(421.00,913.20)"><rect width="149.40" height="7.30" fill="url(#b44)"/><rect x="0.425" y="0.425" width="148.55" height="6.45" fill="none" stroke="#2a2a86" stroke-width="0.85"/></g>
<g transform="translate(367.20,955.60)"><rect width="212.60" height="6.50" fill="url(#k47)"/><rect x="0.45" y="0.45" width="211.70" height="5.60" fill="none" stroke="#2a2a2a" stroke-width="0.9"/></g>
<g transform="translate(337.70,949.10)"><rect width="206.50" height="6.50" fill="url(#r29)"/><rect x="0.45" y="0.45" width="205.60" height="5.60" fill="none" stroke="#d05868" stroke-width="0.9"/></g>
<g transform="translate(350.60,942.70)"><rect width="199.00" height="6.40" fill="url(#b28)"/><rect x="0.425" y="0.425" width="198.15" height="5.55" fill="none" stroke="#2a2a86" stroke-width="0.85"/></g>
<line x1="453.7" y1="79" x2="453.7" y2="254.6" stroke="#bdbdbd" stroke-width="0.8" opacity="0.45"/>
<line x1="453.7" y1="254.6" x2="453.7" y2="283.6" stroke="#b0b0b0" stroke-width="0.8" opacity="0.45"/>
<line x1="453.7" y1="283.6" x2="453.7" y2="597" stroke="#8c8c8c" stroke-width="0.8" opacity="0.45"/>
<line x1="453.7" y1="597" x2="453.7" y2="763.5" stroke="#5a5a5a" stroke-width="0.8" opacity="0.45"/>
<line x1="453.7" y1="763.5" x2="453.7" y2="966.5" stroke="#8a8a8a" stroke-width="0.8" opacity="0.45"/>
<text id="t0" x="226.13" y="96.2" font-size="9.8" font-weight="normal" fill="#111" stroke="#111" stroke-width="0.22" textLength="18.67" lengthAdjust="spacing">N90</text>
<text id="t1" x="163.60" y="127.1" font-size="11" font-weight="normal" fill="#111" stroke="#111" stroke-width="0.22" textLength="80.97" lengthAdjust="spacing">SB-1 uncultured</text>
<text id="t2" x="211.16" y="149.0" font-size="11" font-weight="normal" fill="#111" stroke="#111" stroke-width="0.22" textLength="32.54" lengthAdjust="spacing">Blvii28</text>
<text id="t3" x="179.38" y="169.5" font-size="11" font-weight="normal" fill="#111" stroke="#111" stroke-width="0.22" textLength="62.70" lengthAdjust="spacing">Paludibacter</text>
<text id="t4" x="73.38" y="192.4" font-size="11" font-weight="normal" fill="#111" stroke="#111" stroke-width="0.22" textLength="166.80" lengthAdjust="spacing">Porphyromonadaceae uncultured</text>
<text id="t5" x="153.38" y="219.9" font-size="11" font-weight="normal" fill="#111" stroke="#111" stroke-width="0.22" textLength="89.77" lengthAdjust="spacing">BA008 uncultured</text>
<text id="t6" x="117.65" y="241.3" font-size="11" font-weight="normal" fill="#111" stroke="#111" stroke-width="0.22" textLength="124.02" lengthAdjust="spacing">Bacteroidales uncultured</text>
<text id="t7" x="139.66" y="272.7" font-size="9.6" font-weight="normal" fill="#111" stroke="#111" stroke-width="0.22" textLength="102.31" lengthAdjust="spacing">WCHB1-02 uncultured</text>
<text id="t8" x="205.24" y="298.3" font-size="11" font-weight="normal" fill="#111" stroke="#111" stroke-width="0.22" textLength="35.49" lengthAdjust="spacing">RFN20</text>
<text id="t9" x="56.30" y="316.3" font-size="11" font-weight="normal" fill="#111" stroke="#111" stroke-width="0.22" textLength="183.32" lengthAdjust="spacing">Thermoanaerobacterales uncultured</text>
<text id="t10" x="157.39" y="334.0" font-size="11" font-weight="normal" fill="#111" stroke="#111" stroke-width="0.22" textLength="82.23" lengthAdjust="spacing">Sedimentibacter</text>
<text id="t11" x="154.79" y="350.9" font-size="11" font-weight="normal" fill="#111" stroke="#111" stroke-width="0.22" textLength="85.84" lengthAdjust="spacing">Syntrophomonas</text>
<text id="t12" x="183.66" y="367.0" font-size="11" font-weight="normal" fill="#111" stroke="#111" stroke-width="0.22" textLength="57.79" lengthAdjust="spacing">Oscillospira</text>
<text id="t13" x="89.38" y="385.4" font-size="11" font-weight="normal" fill="#111" stroke="#111" stroke-width="0.22" textLength="150.24" lengthAdjust="spacing">Ruminococcaceae uncultured</text>
<text id="t14" x="190.99" y="402.1" font-size="11" font-weight="normal" fill="#111" stroke="#111" stroke-width="0.22" textLength="50.95" lengthAdjust="spacing">Niigata-25</text>
<text id="t15" x="94.16" y="421.3" font-size="11" font-weight="normal" fill="#111" stroke="#111" stroke-width="0.22" textLength="145.85" lengthAdjust="spacing">Mogibacteriaceae uncultured</text>
<text id="t16" x="195.94" y="441.1" font-size="11" font-weight="normal" fill="#111" stroke="#111" stroke-width="0.22" textLength="45.51" lengthAdjust="spacing">Lutispora</text>
<text id="t17" x="185.69" y="458.9" font-size="11" font-weight="normal" fill="#111" stroke="#111" stroke-width="0.22" textLength="56.63" lengthAdjust="spacing">Clostridium</text>
<text id="t18" x="159.87" y="477.5" font-size="11" font-weight="normal" fill="#111" stroke="#111" stroke-width="0.22" textLength="81.08" lengthAdjust="spacing">Caldanaerocella</text>
<text id="t19" x="185.45" y="498.7" font-size="11" font-weight="normal" fill="#111" stroke="#111" stroke-width="0.22" textLength="55.91" lengthAdjust="spacing">Alkaliphilus</text>
<text id="t20" x="111.69" y="516.6" font-size="11" font-weight="normal" fill="#111" stroke="#111" stroke-width="0.22" textLength="128.01" lengthAdjust="spacing">Clostridiaceae uncultured</text>
<text id="t21" x="179.44" y="537.1" font-size="11" font-weight="normal" fill="#111" stroke="#111" stroke-width="0.22" textLength="60.95" lengthAdjust="spacing">Clostridiales</text>
<text id="t22" x="175.89" y="554.0" font-size="11" font-weight="normal" fill="#111" stroke="#111" stroke-width="0.22" textLength="66.67" lengthAdjust="spacing">Trichococcus</text>
<text id="t23" x="88.16" y="573.2" font-size="11" font-weight="normal" fill="#111" stroke="#111" stroke-width="0.22" textLength="153.21" lengthAdjust="spacing">Carnobacteriaceae uncultured</text>
<text id="t24" x="150.65" y="590.9" font-size="11" font-weight="normal" fill="#111" stroke="#111" stroke-width="0.22" textLength="91.56" lengthAdjust="spacing">Sporolactobacillus</text>
<text id="t25" x="71.16" y="609.3" font-size="11" font-weight="normal" fill="#111" stroke="#111" stroke-width="0.22" textLength="170.38" lengthAdjust="spacing">Pseudomonadaceae uncultured</text>
<text id="t26" x="169.91" y="632.2" font-size="11" font-weight="normal" fill="#111" stroke="#111" stroke-width="0.22" textLength="73.48" lengthAdjust="spacing">Acinetobacter</text>
<text id="t27" x="185.33" y="650.6" font-size="11" font-weight="normal" fill="#111" stroke="#111" stroke-width="0.22" textLength="58.28" lengthAdjust="spacing">Arcobacter</text>
<text id="t28" x="153.60" y="670.8" font-size="11" font-weight="normal" fill="#111" stroke="#111" stroke-width="0.22" textLength="87.94" lengthAdjust="spacing">Syntrophobacter</text>
<text id="t29" x="161.00" y="690.3" font-size="11" font-weight="normal" fill="#111" stroke="#111" stroke-width="0.22" textLength="80.44" lengthAdjust="spacing">Syntrophaceae</text>
<text id="t30" x="143.15" y="712.9" font-size="11" font-weight="normal" fill="#111" stroke="#111" stroke-width="0.22" textLength="98.31" lengthAdjust="spacing">GW-28 uncultured</text>
<text id="t31" x="184.16" y="734.7" font-size="11" font-weight="normal" fill="#111" stroke="#111" stroke-width="0.22" textLength="57.39" lengthAdjust="spacing">Pelobacter</text>
<text id="t32" x="161.15" y="755.9" font-size="11" font-weight="normal" fill="#111" stroke="#111" stroke-width="0.22" textLength="79.92" lengthAdjust="spacing">Tetrathiobacter</text>
<text id="t33" x="178.05" y="782.3" font-size="12.3" font-weight="normal" fill="#111" stroke="#111" stroke-width="0.22" textLength="63.42" lengthAdjust="spacing">Treponema</text>
<text id="t34" x="121.03" y="809.8" font-size="12.5" font-weight="normal" fill="#111" stroke="#111" stroke-width="0.22" textLength="119.80" lengthAdjust="spacing">PL-11B10 uncultured</text>
<text id="t35" x="123.94" y="840.7" font-size="12.1" font-weight="normal" fill="#111" stroke="#111" stroke-width="0.22" textLength="119.89" lengthAdjust="spacing">ML615J-28 uncultured</text>
<text id="t36" x="176.86" y="870.2" font-size="12.3" font-weight="normal" fill="#111" stroke="#111" stroke-width="0.22" textLength="64.53" lengthAdjust="spacing">Kosmotoga</text>
<text id="t37" x="218.11" y="897.1" font-size="11.4" font-weight="normal" fill="#111" stroke="#111" stroke-width="0.22" textLength="24.39" lengthAdjust="spacing">W22</text>
<text id="t38" x="204.70" y="921.7" font-size="11.0" font-weight="normal" fill="#111" stroke="#111" stroke-width="0.22" textLength="37.26" lengthAdjust="spacing">BHB21</text>
<text id="t39" x="2.76" y="97.3" font-size="16.2" font-weight="bold" fill="#000" textLength="113.42" lengthAdjust="spacing">Actinobacteria</text>
<text id="t40" x="1.60" y="162.1" font-size="16.2" font-weight="bold" fill="#000" textLength="109.08" lengthAdjust="spacing">Bacteroidetes</text>
<text id="t41" x="0.66" y="273.1" font-size="16.3" font-weight="bold" fill="#000" textLength="90.46" lengthAdjust="spacing">Caldiserica</text>
<text id="t42" x="2.45" y="415.7" font-size="16.5" font-weight="bold" fill="#000" textLength="85.83" lengthAdjust="spacing">Firmicutes</text>
<text id="t43" x="5.39" y="671.0" font-size="16.0" font-weight="bold" fill="#000" textLength="116.98" lengthAdjust="spacing">Proteobacteria</text>
<text id="t44" x="4.65" y="793.5" font-size="16.0" font-weight="bold" fill="#000" textLength="105.53" lengthAdjust="spacing">Spirochaetes</text>
<text id="t45" x="6.58" y="835.6" font-size="16.0" font-weight="bold" fill="#000" textLength="85.58" lengthAdjust="spacing">Tenericutes</text>
<text id="t46" x="6.58" y="868.4" font-size="16.0" font-weight="bold" fill="#000" textLength="104.63" lengthAdjust="spacing">Thermotogae</text>
<text id="t47" x="6.53" y="907.4" font-size="16.0" font-weight="bold" fill="#000" textLength="50.77" lengthAdjust="spacing">WWE1</text>
<text id="t48" x="5.44" y="949.0" font-size="16.0" font-weight="bold" fill="#000" textLength="54.13" lengthAdjust="spacing">Others</text>
<text id="t49" x="252.76" y="20.3" font-size="25.5" font-weight="normal" fill="#111" stroke="#111" stroke-width="0.22" textLength="237.98" lengthAdjust="spacing">Relative abundance</text>
<text id="t50" x="306.82" y="65.8" font-size="18.3" font-weight="normal" fill="#111" stroke="#111" stroke-width="0.22" textLength="13.51" lengthAdjust="spacingAndGlyphs">B</text>
<text id="t51" x="587.60" y="65.4" font-size="18.8" font-weight="normal" fill="#111" stroke="#111" stroke-width="0.22" textLength="15.05" lengthAdjust="spacingAndGlyphs">H</text>
<text id="t52" x="297.34" y="988.9" font-size="17.6" font-weight="normal" fill="#111" stroke="#111" stroke-width="0.22" textLength="12.92" lengthAdjust="spacingAndGlyphs">B</text>
<text id="t53" x="596.15" y="990.5" font-size="18.2" font-weight="normal" fill="#111" stroke="#111" stroke-width="0.22" textLength="14.85" lengthAdjust="spacingAndGlyphs">H</text>
</svg>
</body></html>
